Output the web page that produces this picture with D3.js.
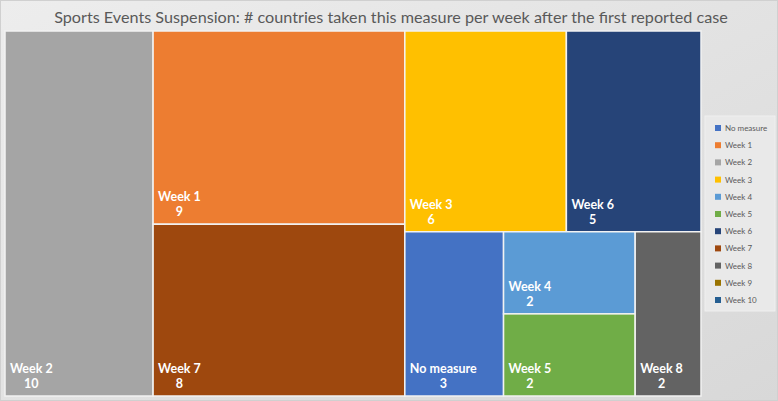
<!DOCTYPE html>
<html>
<head>
<meta charset="utf-8">
<script src="https://cdn.jsdelivr.net/npm/d3@7"></script>
<style>
  body { margin: 0; background: #fff; }
  text { font-family: Lato, "DejaVu Sans", sans-serif; }
</style>
</head>
<body>
<div id="chart"></div>
<script>
// Chart data
var categories = ["No measure", "Week 1", "Week 2", "Week 3", "Week 4", "Week 5",
                  "Week 6", "Week 7", "Week 8", "Week 9", "Week 10"];
var counts = [3, 9, 10, 6, 2, 2, 5, 8, 2, 0, 0];
var colors = ["#4472C4", "#ED7D31", "#A5A5A5", "#FFC000", "#5B9BD5", "#70AD47",
              "#264478", "#9E480E", "#636363", "#997300", "#255E91"];

// How Excel grouped the tiles (columns / rows, alternating by depth)
var groups = ["Week 2", ["Week 1", "Week 7"],
  [["Week 3", "Week 6"], ["No measure", ["Week 4", "Week 5"], "Week 8"]]];

var titleText = "Sports Events Suspension: # countries taken this measure per week after the first reported case";

// Canvas attributes
var width = 778;
var height = 401;
var plot = { x0: 5, y0: 31, x1: 701, y1: 396 };

var svg = d3.select("#chart")
  .append("svg")
  .attr("width", width)
  .attr("height", height);

// Background gradient
var defs = svg.append("defs");
var grad = defs.append("linearGradient")
  .attr("id", "bg")
  .attr("x1", "0").attr("y1", "0")
  .attr("x2", "1").attr("y2", "1");
grad.append("stop").attr("offset", "0%").attr("stop-color", "#ededed");
grad.append("stop").attr("offset", "100%").attr("stop-color", "#d8d8d8");

svg.append("rect")
  .attr("x", 0.5).attr("y", 0.5)
  .attr("width", width - 1).attr("height", height - 1)
  .attr("fill", "url(#bg)")
  .attr("stroke", "#d0d0d0");

// Title
svg.append("text")
  .attr("x", 391)
  .attr("y", 23)
  .attr("text-anchor", "middle")
  .attr("font-size", 16.2)
  .attr("fill", "#595959")
  .text(titleText);

// Build hierarchy from the grouping + arrays
var colorScale = d3.scaleOrdinal().domain(categories).range(colors);

function build(g) {
  if (typeof g === "string") {
    return { name: g, value: counts[categories.indexOf(g)] };
  }
  return { children: g.map(build) };
}

var root = d3.hierarchy(build(groups))
  .sum(function(d) { return d.value || 0; });

d3.treemap()
  .tile(d3.treemapSliceDice)
  .size([plot.x1 - plot.x0, plot.y1 - plot.y0])
  .round(false)(root);

var leaves = svg.append("g")
  .attr("transform", "translate(" + plot.x0 + "," + plot.y0 + ")")
  .selectAll("g")
  .data(root.leaves())
  .enter()
  .append("g");

leaves.append("rect")
  .attr("x", function(d) { return d.x0; })
  .attr("y", function(d) { return d.y0; })
  .attr("width", function(d) { return d.x1 - d.x0; })
  .attr("height", function(d) { return d.y1 - d.y0; })
  .attr("fill", function(d) { return colorScale(d.data.name); })
  .attr("stroke", "#f2f2f2")
  .attr("stroke-width", 1.5);

// Labels: name then value centred under it
leaves.each(function(d) {
  var g = d3.select(this);
  var name = g.append("text")
    .attr("x", d.x0 + 5)
    .attr("y", d.y1 - 23)
    .attr("font-size", 12.5)
    .attr("font-weight", "bold")
    .attr("fill", "#fff")
    .text(d.data.name);
  var w = name.node().getComputedTextLength();
  g.append("text")
    .attr("x", d.x0 + 5 + w / 2)
    .attr("y", d.y1 - 8)
    .attr("text-anchor", "middle")
    .attr("font-size", 12.5)
    .attr("font-weight", "bold")
    .attr("fill", "#fff")
    .text(d.data.value);
});

// Legend
var legend = svg.append("g");
legend.append("rect")
  .attr("x", 705).attr("y", 116)
  .attr("width", 70).attr("height", 195)
  .attr("fill", "#e9e9e9")
  .attr("stroke", "#efefef");

var legendY = d3.scalePoint()
  .domain(categories)
  .range([128, 300]);

var items = legend.selectAll("g.item")
  .data(categories)
  .enter()
  .append("g")
  .attr("class", "item")
  .attr("transform", function(d) { return "translate(0," + legendY(d) + ")"; });

items.append("rect")
  .attr("x", 715).attr("y", -3)
  .attr("width", 6).attr("height", 6)
  .attr("fill", function(d) { return colorScale(d); });

items.append("text")
  .attr("x", 725)
  .attr("y", 3)
  .attr("font-size", 8)
  .attr("fill", "#595959")
  .text(function(d) { return d; });
</script>
</body>
</html>
